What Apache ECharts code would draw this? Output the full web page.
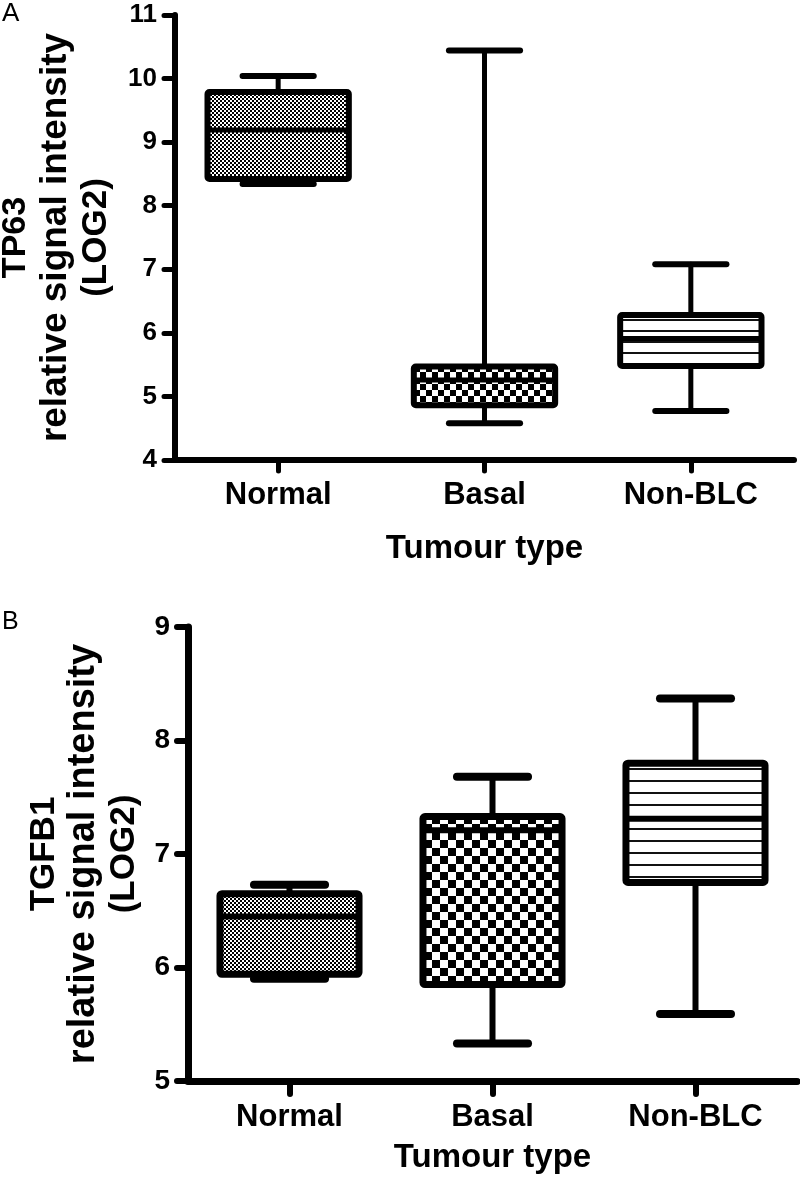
<!DOCTYPE html>
<html><head><meta charset="utf-8">
<script src="https://cdn.jsdelivr.net/npm/echarts@6/dist/echarts.min.js"></script>
<style>html,body{margin:0;padding:0;background:#fff}#c{width:800px;height:1182px}</style>
</head><body><div id="c"></div>
<script>
// ---- data ----
const categories = ['Normal', 'Basal', 'Non-BLC'];
// [min, q1, median, q3, max]
const tp63Normal = [8.34, 8.42, 9.19, 9.79, 10.04];
const tp63Basal  = [4.58, 4.86, 5.26, 5.47, 10.44];
const tp63NonBLC = [4.77, 5.48, 5.91, 6.28, 7.08];
const tgfb1Normal = [5.90, 5.94, 6.45, 6.65, 6.73];
const tgfb1Basal  = [5.33, 5.85, 7.21, 7.33, 7.68];
const tgfb1NonBLC = [5.59, 6.75, 7.31, 7.80, 8.37];
const tp63Ticks = [4, 5, 6, 7, 8, 9, 10, 11];
const tgfb1Ticks = [5, 6, 7, 8, 9];
const xTitle = 'Tumour type';
const tp63Title = ['TP63', 'relative signal intensity', '(LOG2)'];
const tgfb1Title = ['TGFB1', 'relative signal intensity', '(LOG2)'];

const FONT = '"Liberation Sans", Arial, sans-serif';

// ---- fill patterns ----
function canvasOf(w, h, draw) {
  const c = document.createElement('canvas');
  c.width = w; c.height = h;
  const g = c.getContext('2d');
  g.fillStyle = '#fff'; g.fillRect(0, 0, w, h);
  g.fillStyle = '#000';
  draw(g);
  return c;
}
function dots() {
  return canvasOf(4, 4, g => { g.fillRect(0, 0, 2, 2); g.fillRect(2, 2, 2, 2); });
}
function checker(s) {
  return canvasOf(2 * s, 2 * s, g => { g.fillRect(0, 0, s, s); g.fillRect(s, s, s, s); });
}
function hlines(p) {
  return canvasOf(4, p, g => { g.fillStyle = '#111'; g.fillRect(0, 0, 4, 2); });
}

function makeRender(patterns, st) {
  return function (params, api) {
    const i = api.value(0);
    const v = [1, 2, 3, 4, 5].map(k => api.value(k));
    const p = v.map(val => api.coord([i, val]));
    const band = api.size([1, 0])[0];
    const cx = p[0][0];
    const bw = band * st.box, cw = band * st.cap;
    const wl = { stroke: '#000', lineWidth: st.wWhisker, lineCap: 'round' };
    const cl = { stroke: '#000', lineWidth: st.wCap, lineCap: 'round' };
    return {
      type: 'group',
      children: [
        { type: 'line', shape: { x1: cx, y1: p[3][1], x2: cx, y2: p[4][1] }, style: wl },
        { type: 'line', shape: { x1: cx, y1: p[0][1], x2: cx, y2: p[1][1] }, style: wl },
        { type: 'line', shape: { x1: cx - cw / 2, y1: p[4][1], x2: cx + cw / 2, y2: p[4][1] }, style: cl },
        { type: 'line', shape: { x1: cx - cw / 2, y1: p[0][1], x2: cx + cw / 2, y2: p[0][1] }, style: cl },
        { type: 'rect', shape: { x: cx - bw / 2, y: p[3][1], width: bw, height: p[1][1] - p[3][1], r: 2 },
          style: { fill: { image: patterns[params.dataIndex], repeat: 'repeat' }, stroke: '#000', lineWidth: st.wBox, lineJoin: 'round' } },
        { type: 'line', shape: { x1: cx - bw / 2, y1: p[2][1], x2: cx + bw / 2, y2: p[2][1] }, style: { stroke: '#000', lineWidth: st.wMed } }
      ]
    };
  };
}

function yAxisOf(gi, ticks, title, o) {
  return {
    type: 'value', gridIndex: gi,
    min: ticks[0], max: ticks[ticks.length - 1], interval: ticks[1] - ticks[0],
    splitLine: { show: false },
    axisLine: { show: true, lineStyle: { color: '#000', width: o.axisW, cap: 'round' } },
    axisTick: { show: true, length: o.tickLen, lineStyle: { color: '#000', width: o.tickW, cap: 'round' } },
    axisLabel: { color: '#000', fontFamily: FONT, fontWeight: 'bold', fontSize: o.tickFs, margin: o.tickMargin },
    name: '{a|' + title[0] + '}\n{b|' + title[1] + '}\n{c|' + title[2] + '}',
    nameLocation: 'middle', nameRotate: 90, nameGap: o.nameGap, nameMoveOverlap: false,
    nameTextStyle: {
      color: '#000', fontFamily: FONT, fontWeight: 'bold',
      rich: {
        a: { fontSize: o.tFs[0], lineHeight: o.tLh, fontWeight: 'bold', fontFamily: FONT, color: '#000' },
        b: { fontSize: o.tFs[1], lineHeight: o.tLh, fontWeight: 'bold', fontFamily: FONT, color: '#000' },
        c: { fontSize: o.tFs[2], lineHeight: o.tLh, fontWeight: 'bold', fontFamily: FONT, color: '#000' }
      }
    }
  };
}
function xAxisOf(gi, o) {
  return {
    type: 'category', gridIndex: gi, data: categories, boundaryGap: true,
    axisLine: { show: true, lineStyle: { color: '#000', width: o.axisW, cap: 'round' } },
    axisTick: { show: true, alignWithLabel: true, length: o.tickLen, lineStyle: { color: '#000', width: o.tickW, cap: 'round' } },
    axisLabel: { color: '#000', fontFamily: FONT, fontWeight: 'bold', fontSize: o.labFs, margin: o.labMargin, interval: 0 },
    name: xTitle, nameLocation: 'middle', nameGap: o.nameGap, nameMoveOverlap: false,
    nameTextStyle: { color: '#000', fontFamily: FONT, fontWeight: 'bold', fontSize: o.nameFs }
  };
}

const toRows = arrs => arrs.map((a, i) => [i].concat(a));

const chart = echarts.init(document.getElementById('c'), null, { renderer: 'canvas' });
chart.setOption({
  backgroundColor: '#fff',
  animation: false,
  title: [
    { text: 'A', left: 2, top: 1, padding: 0, textStyle: { fontFamily: FONT, fontWeight: 'normal', fontSize: 26, color: '#000' } },
    { text: 'B', left: 2, top: 610, padding: 0, textStyle: { fontFamily: FONT, fontWeight: 'normal', fontSize: 25, color: '#000' } }
  ],
  grid: [
    { left: 175, top: 15, width: 619, height: 445, outerBoundsMode: 'none', containLabel: false },
    { left: 188, top: 627, width: 609, height: 454, outerBoundsMode: 'none', containLabel: false }
  ],
  xAxis: [
    xAxisOf(0, { axisW: 6, tickLen: 11, tickW: 5, labFs: 31, labMargin: 20, nameGap: 72, nameFs: 33 }),
    xAxisOf(1, { axisW: 7, tickLen: 13, tickW: 6, labFs: 31, labMargin: 21, nameGap: 60, nameFs: 33 })
  ],
  yAxis: [
    yAxisOf(0, tp63Ticks, tp63Title, { axisW: 6, tickLen: 11, tickW: 5, tickFs: 26, tickMargin: 18, nameGap: 59, tFs: [34, 37, 35], tLh: 40 }),
    yAxisOf(1, tgfb1Ticks, tgfb1Title, { axisW: 7, tickLen: 11, tickW: 6, tickFs: 28, tickMargin: 18, nameGap: 44, tFs: [35, 38, 35], tLh: 40 })
  ],
  series: [
    {
      type: 'custom', xAxisIndex: 0, yAxisIndex: 0,
      encode: { x: 0, y: [1, 2, 3, 4, 5] },
      data: toRows([tp63Normal, tp63Basal, tp63NonBLC]),
      renderItem: makeRender([dots(), checker(6), hlines(11)], { box: 0.685, cap: 0.345, wWhisker: 5, wCap: 6, wBox: 6, wMed: 5 })
    },
    {
      type: 'custom', xAxisIndex: 1, yAxisIndex: 1,
      encode: { x: 0, y: [1, 2, 3, 4, 5] },
      data: toRows([tgfb1Normal, tgfb1Basal, tgfb1NonBLC]),
      renderItem: makeRender([dots(), checker(8), hlines(12)], { box: 0.685, cap: 0.35, wWhisker: 6, wCap: 8, wBox: 7, wMed: 6 })
    }
  ]
});
</script>
</body></html>
